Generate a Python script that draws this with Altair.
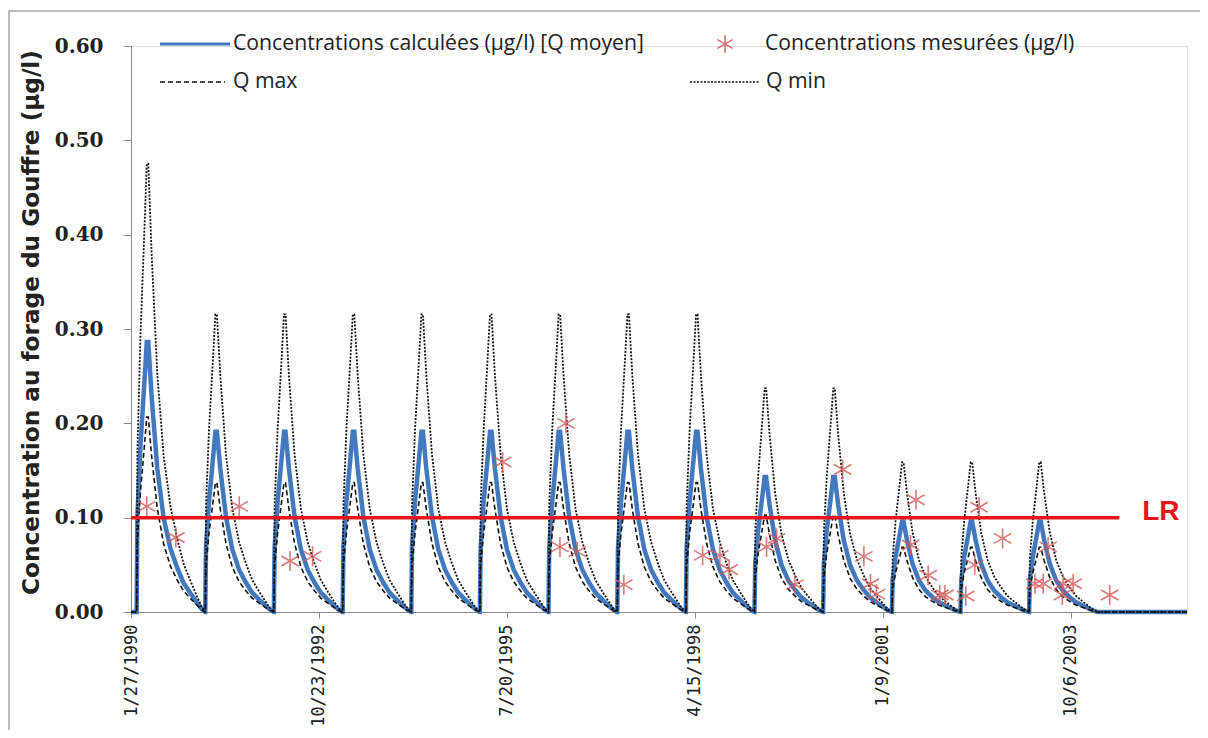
import altair as alt
import pandas as pd

# ---------------- data ----------------
cycle_years = list(range(1990, 2004))
cycle_start_md = "02-26"

peak_moyen = [0.292, 0.195, 0.195, 0.195, 0.195, 0.195, 0.195, 0.195, 0.195,
              0.146, 0.146, 0.098, 0.098, 0.098]
peak_qmin = [0.485, 0.322, 0.322, 0.322, 0.322, 0.322, 0.322, 0.322, 0.322,
             0.242, 0.242, 0.162, 0.162, 0.162]
peak_qmax = [0.211, 0.140, 0.140, 0.140, 0.140, 0.140, 0.140, 0.140, 0.140,
             0.105, 0.105, 0.070, 0.070, 0.070]

# shape of one yearly pulse (days after the start, fraction of the peak)
pulse_days = [0, 4, 20, 40, 54, 62, 80, 110, 144, 180, 216, 250, 287, 320, 345, 364]
pulse_frac = [0.0, 0.35, 0.60, 0.82, 0.98, 0.98, 0.78, 0.52, 0.34, 0.23, 0.16, 0.105,
              0.067, 0.035, 0.012, 0.0]

series_start = "1990-01-27"
series_end = "2005-06-15"

mes_dates = ["1990-04-21", "1990-09-23", "1991-08-26", "1992-05-22", "1992-09-19",
             "1995-06-27", "1996-05-29", "1996-04-27", "1996-07-28", "1997-04-02",
             "1998-05-26", "1998-08-26", "1998-10-14", "1999-05-01", "1999-06-24",
             "1999-09-29", "2000-06-09", "2000-09-30", "2000-11-04", "2000-12-06",
             "2001-06-05", "2001-07-04", "2001-09-07", "2001-11-08", "2001-12-05",
             "2002-03-26", "2002-05-13", "2002-06-05", "2002-10-08", "2003-03-29",
             "2003-05-12", "2003-06-07", "2003-08-22", "2003-08-26", "2003-10-18",
             "2004-04-30"]
mes_values = [0.112, 0.079, 0.112, 0.054, 0.059,
              0.159, 0.200, 0.069, 0.064, 0.029,
              0.060, 0.060, 0.045, 0.069, 0.078,
              0.029, 0.151, 0.059, 0.030, 0.019,
              0.071, 0.119, 0.039, 0.018, 0.018,
              0.017, 0.050, 0.111, 0.078, 0.030,
              0.030, 0.069, 0.018, 0.030, 0.030,
              0.018]

lr_value = 0.10
lr_end = "2004-06-20"
lr_label_date = "2005-01-27"

tick_dates = [(1990, 1, 27), (1992, 10, 23), (1995, 7, 20), (1998, 4, 15),
              (2001, 1, 9), (2003, 10, 6)]
y_ticks = [0.0, 0.1, 0.2, 0.3, 0.4, 0.5, 0.6]

legend_calc = "Concentrations calculées (µg/l) [Q moyen]"
legend_mes = "Concentrations mesurées (µg/l)"
legend_qmax = "Q max"
legend_qmin = "Q min"
y_title = "Concentration  au forage du Gouffre (µg/l)"

# ---------------- build tables ----------------
def build(peaks):
    rows = [{"date": series_start, "value": 0.0}]
    for yr, pk in zip(cycle_years, peaks):
        t0 = pd.Timestamp(f"{yr}-{cycle_start_md}")
        for d, f in zip(pulse_days, pulse_frac):
            rows.append({"date": (t0 + pd.Timedelta(days=d)).strftime("%Y-%m-%d"),
                         "value": pk * f})
    rows.append({"date": series_end, "value": 0.0})
    return pd.DataFrame(rows)

df_moy = build(peak_moyen)
df_qmin = build(peak_qmin)
df_qmax = build(peak_qmax)
df_mes = pd.DataFrame({"date": mes_dates, "value": mes_values})
df_lr = pd.DataFrame({"start": [series_start], "end": [lr_end], "value": [lr_value],
                      "lab": [lr_label_date], "txt": ["LR"]})
one = pd.DataFrame({"k": [0]})

BLUE = "#4279BE"
RED = "#E8161C"
ASTER = "#D25B58"
ASTER_PATH = "M0,-1L0,1M-0.87,-0.5L0.87,0.5M-0.87,0.5L0.87,-0.5"

def dt(y, m, d):
    return alt.DateTime(year=y, month=m, date=d, utc=True)

x_scale = alt.Scale(type="utc", domain=[dt(1990, 1, 27), dt(2005, 6, 15)], nice=False)
y_scale = alt.Scale(domain=[0, 0.6], nice=False)

x_axis = alt.Axis(values=[dt(*t) for t in tick_dates], format="%-m/%-d/%Y",
                  labelAngle=270, labelFont="DejaVu Sans Mono", labelFontSize=17,
                  labelColor="#222222", tickSize=6, labelPadding=6, grid=False,
                  domainColor="#8c8c8c", tickColor="#8c8c8c", title=None,
                  labelOverlap=False)
y_axis = alt.Axis(values=y_ticks, format=".2f", labelFont="DejaVu Serif",
                  labelFontWeight="bold", labelFontSize=20, labelColor="#222222",
                  tickSize=8, labelPadding=20, grid=False, domainColor="#8c8c8c",
                  tickColor="#8c8c8c", title=y_title, titleFont="DejaVu Sans",
                  titleFontWeight="bold", titleFontSize=23.2, titleColor="#222222",
                  titleX=-100, titleY=276, titleAngle=270, titleAlign="center",
                  titleBaseline="middle")

X = alt.X("date:T", scale=x_scale, axis=x_axis)
Y = alt.Y("value:Q", scale=y_scale, axis=y_axis)
Xn = alt.X("date:T", scale=x_scale)
Yn = alt.Y("value:Q", scale=y_scale)

frame = alt.Chart(one).mark_rect(fill=None, stroke="#a8a8a8", strokeWidth=1.5, clip=False).encode(
    x=alt.value(-122), x2=alt.value(1100), y=alt.value(-35), y2=alt.value(760))

moy = alt.Chart(df_moy).mark_line(color=BLUE, strokeWidth=4.5).encode(x=X, y=Y)
qmax = alt.Chart(df_qmax).mark_line(color="#111111", strokeWidth=1.6,
                                     strokeDash=[5, 3]).encode(x=Xn, y=Yn)
qmin = alt.Chart(df_qmin).mark_line(color="#111111", strokeWidth=1.8,
                                     strokeDash=[2, 1.5]).encode(x=Xn, y=Yn)
mes = alt.Chart(df_mes).mark_point(shape=ASTER_PATH, size=400, color=ASTER,
                                   strokeWidth=1.6, opacity=0.8, filled=False).encode(x=Xn, y=Yn)
lr = alt.Chart(df_lr).mark_rule(color=RED, strokeWidth=3.5).encode(
    x=alt.X("start:T", scale=x_scale), x2="end:T", y=alt.Y("value:Q", scale=y_scale))
lr_txt = alt.Chart(df_lr).mark_text(color=RED, font="Liberation Sans", fontWeight="bold",
                                    fontSize=28, align="center", baseline="middle", dy=-6).encode(
    x=alt.X("lab:T", scale=x_scale), y=alt.Y("value:Q", scale=y_scale), text="txt:N")

TXT = dict(font="Open Sans", fontSize=21.2, color="#222222", align="left", baseline="middle")
leg = [
    alt.Chart(one).mark_rule(color=BLUE, strokeWidth=3).encode(
        x=alt.value(29), x2=alt.value(99), y=alt.value(-2)),
    alt.Chart(one).mark_text(text=legend_calc, **TXT).encode(x=alt.value(102), y=alt.value(-2)),
    alt.Chart(one).mark_point(shape=ASTER_PATH, size=300, color=ASTER, strokeWidth=1.6,
                              opacity=0.85).encode(x=alt.value(594), y=alt.value(-2)),
    alt.Chart(one).mark_text(text=legend_mes, **TXT).encode(x=alt.value(634), y=alt.value(-2)),
    alt.Chart(one).mark_rule(color="#111111", strokeWidth=1.4, strokeDash=[5, 3]).encode(
        x=alt.value(29), x2=alt.value(94), y=alt.value(36)),
    alt.Chart(one).mark_text(text=legend_qmax, **TXT).encode(x=alt.value(102), y=alt.value(36)),
    alt.Chart(one).mark_rule(color="#111111", strokeWidth=1.4, strokeDash=[2, 1.5]).encode(
        x=alt.value(559), x2=alt.value(629), y=alt.value(36)),
    alt.Chart(one).mark_text(text=legend_qmin, **TXT).encode(x=alt.value(635), y=alt.value(36)),
]

chart = alt.layer(frame, moy, qmax, qmin, lr, mes, lr_txt, *leg).properties(
    width=1056, height=566,
    autosize=alt.AutoSizeParams(type="none"),
    padding={"left": 123, "top": 38, "right": 13, "bottom": 118},
).configure_view(stroke=None).configure(background="white")

chart.save("out.html", embed_options={"renderer": "svg", "actions": False})
